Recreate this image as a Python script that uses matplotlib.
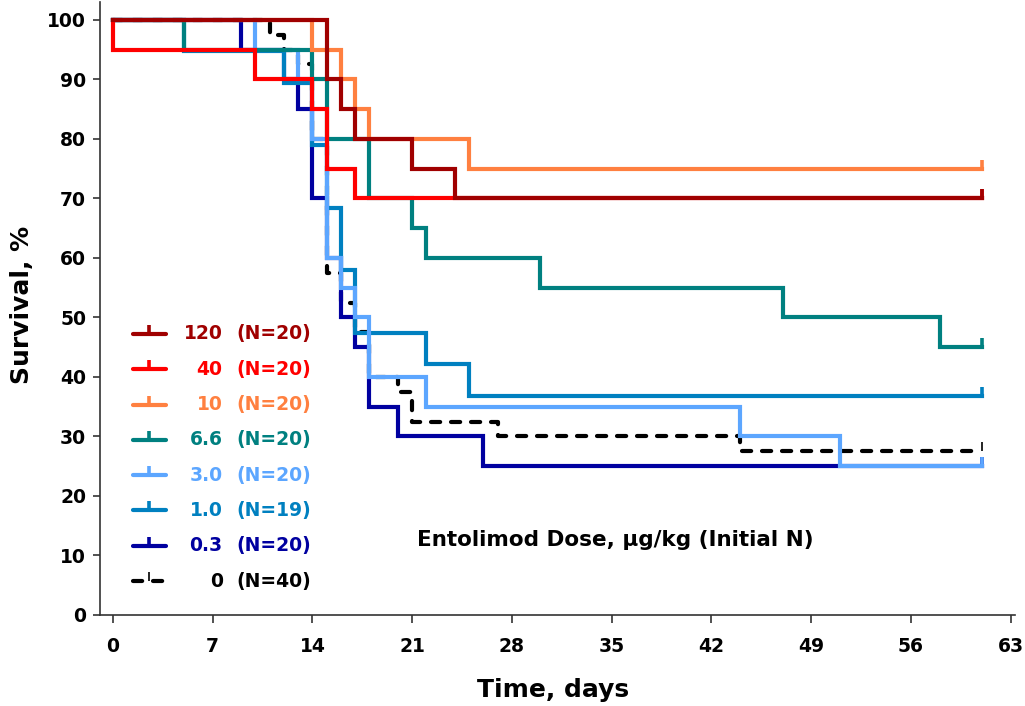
import matplotlib.pyplot as plt

# Kaplan-Meier survival by entolimod dose
doses = ["120", "40", "10", "6.6", "3.0", "1.0", "0.3", "0"]
group_n = [20, 20, 20, 20, 20, 19, 20, 40]
colors = ["#a00000", "#ff0000", "#ff8040", "#008080",
          "#5ca6ff", "#0080c0", "#0000a0", "#000000"]

days_120 = [0, 15, 16, 17, 21, 24, 61]
surv_120 = [100, 90, 85, 80, 75, 70, 70]

days_40 = [0, 0, 10, 14, 15, 17, 61]
surv_40 = [100, 95, 90, 85, 75, 70, 70]

days_10 = [0, 14, 16, 17, 18, 25, 61]
surv_10 = [100, 95, 90, 85, 80, 75, 75]

days_66 = [0, 5, 14, 15, 18, 21, 22, 30, 47, 58, 61]
surv_66 = [100, 95, 90, 80, 70, 65, 60, 55, 50, 45, 45]

days_30 = [0, 10, 13, 14, 15, 16, 17, 18, 22, 44, 51, 61]
surv_30 = [100, 95, 90, 80, 60, 55, 50, 40, 35, 30, 25, 25]

days_10b = [0, 5, 12, 14, 15, 16, 17, 22, 25, 61]
surv_10b = [100, 94.74, 89.47, 78.95, 68.42, 57.89, 47.37, 42.11, 36.84, 36.84]

days_03 = [0, 9, 12, 13, 14, 15, 16, 17, 18, 20, 26, 61]
surv_03 = [100, 95, 90, 85, 70, 60, 50, 45, 35, 30, 25, 25]

days_0 = [0, 11, 12, 13, 14, 15, 16, 17, 18, 20, 21, 27, 44, 61]
surv_0 = [100, 97.5, 95, 92.5, 80, 57.5, 52.5, 47.5, 40, 37.5, 32.5, 30, 27.5, 27.5]

all_days = [days_120, days_40, days_10, days_66, days_30, days_10b, days_03, days_0]
all_surv = [surv_120, surv_40, surv_10, surv_66, surv_30, surv_10b, surv_03, surv_0]

x_ticks = list(range(0, 64, 7))
y_ticks = list(range(0, 101, 10))

bold = {"family": ["DejaVu Sans"], "weight": "bold"}
dash = (0, (2.2, 2.6))
LW = 3.0

fig = plt.figure(figsize=(10.25, 7.06), dpi=100)
ax = fig.add_axes([0.0976, 0.1289, 0.8927, 0.8683])

n = len(doses)
for i in range(n - 1, -1, -1):
    ls = dash if doses[i] == "0" else "-"
    z = 10 + (n - i)
    ax.step(all_days[i], all_surv[i], where="post", color=colors[i], lw=LW,
            linestyle=ls, dash_capstyle="round", solid_joinstyle="miter", zorder=z)
    # censor tick at the end of follow-up
    ax.plot([all_days[i][-1]], [all_surv[i][-1]], marker=2, ms=6.5,
            mew=1.2 if doses[i] == "0" else 2.6, color=colors[i], zorder=z)

ax.set_xlim(-0.9, 63.3)
ax.set_ylim(0, 103)
ax.set_xticks(x_ticks)
ax.set_yticks(y_ticks)
ax.tick_params(axis="x", length=6, width=1.2, pad=10, labelsize=13.5, colors="#333333",
               labelcolor="black")
ax.tick_params(axis="y", length=5, width=1.2, pad=5, labelsize=13.5, colors="#333333",
               labelcolor="black")
for lab in ax.get_xticklabels() + ax.get_yticklabels():
    lab.set_fontfamily(["DejaVu Sans"])
    lab.set_fontweight("bold")
for s in ["top", "right"]:
    ax.spines[s].set_visible(False)
for s in ["left", "bottom"]:
    ax.spines[s].set_color("#333333")
    ax.spines[s].set_linewidth(1.2)

fig.text(553 / 1025, 1 - 690 / 706, "Time, days", ha="center", va="center",
         fontsize=18, **bold)
fig.text(22 / 1025, 1 - 305 / 706, "Survival, %", ha="center", va="center",
         rotation=90, fontsize=18, **bold)

ax.text((615 - 100) / 915, (615 - 540) / 613, "Entolimod Dose, \u03bcg/kg (Initial N)",
        transform=ax.transAxes, ha="center", va="center", fontsize=15.5, **bold)

# legend drawn by hand so the dose numbers line up on the right
for i in range(n):
    yy = (615 - (334 + i * 35.3)) / 613
    ls = dash if doses[i] == "0" else "-"
    ax.plot([0.036, 0.072], [yy, yy], transform=ax.transAxes, color=colors[i], lw=LW,
            linestyle=ls, dash_capstyle="round", solid_capstyle="round", clip_on=False)
    ax.plot([0.054], [yy], transform=ax.transAxes, marker=2, ms=6.5,
            mew=1.2 if doses[i] == "0" else 2.6, color=colors[i], clip_on=False)
    ax.text(0.134, yy, doses[i], transform=ax.transAxes, ha="right", va="center",
            color=colors[i], fontsize=13.5, **bold)
    ax.text(0.149, yy, f"(N={group_n[i]})", transform=ax.transAxes, ha="left",
            va="center", color=colors[i], fontsize=13.5, **bold)

fig.savefig("out.png", dpi=100)
